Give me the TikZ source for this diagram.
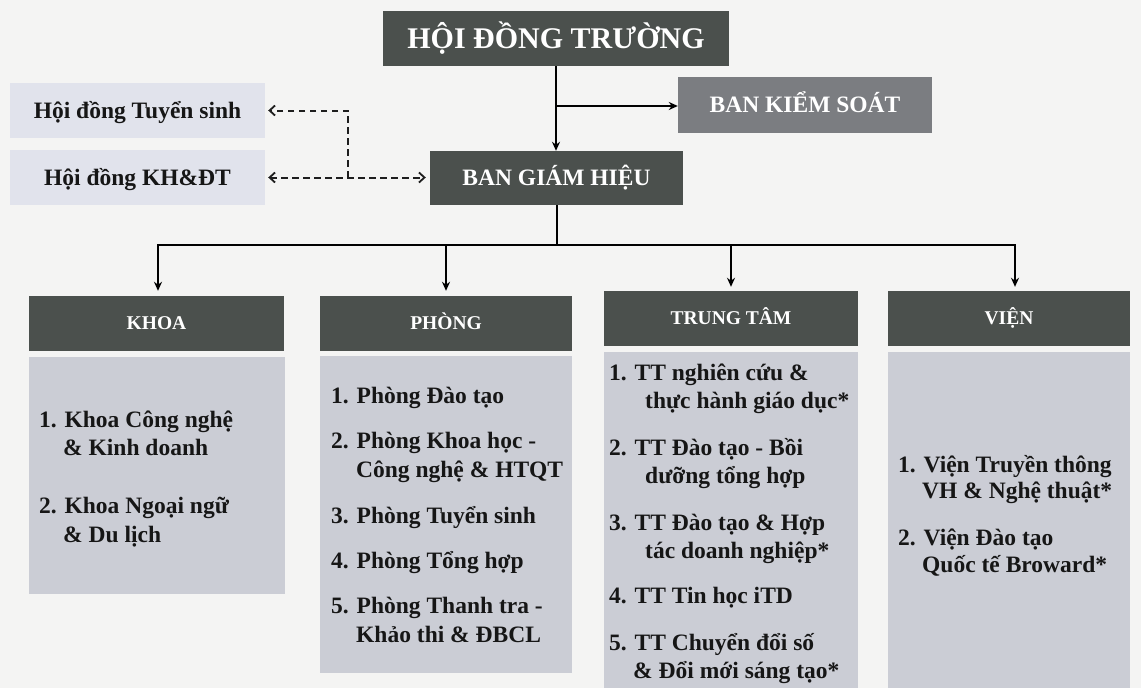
\documentclass[tikz,border=0pt]{standalone}
\usepackage{fontspec}
\setmainfont{Liberation Serif}
\usetikzlibrary{arrows.meta}
\definecolor{bgc}{HTML}{F4F4F3}
\definecolor{darkbox}{HTML}{4B504D}
\definecolor{midbox}{HTML}{7B7D81}
\definecolor{bodybox}{HTML}{CBCDD5}
\definecolor{sidebox}{HTML}{E1E3EC}
\definecolor{ink}{HTML}{161616}
\definecolor{dashc}{HTML}{1E1E1E}
\tikzset{
  box/.style={rectangle, inner sep=0pt, text depth=0pt, align=center},
  darkB/.style={box, fill=darkbox, text=white},
  midB/.style={box, fill=midbox, text=white},
  sideB/.style={box, fill=sidebox, text=ink, text height=15.5pt, font=\bfseries\fontsize{23.5}{28}\selectfont},
  headB/.style={darkB, text height=12.9pt, font=\bfseries\fontsize{19.5}{24}\selectfont},
  bodyB/.style={rectangle, inner sep=0pt, fill=bodybox},
  item/.style={inner sep=0pt, anchor=base west, text=ink, font=\bfseries\fontsize{23.5}{28}\selectfont},
  conn/.style={line width=2pt, black},
  solidarrow/.style={conn, -{Stealth[length=9pt,width=8pt]}},
  dashconn/.style={line width=2pt, dashc, dash pattern=on 6.5pt off 4.5pt},
  dbarb/.tip={Straight Barb[length=5.5pt,width=10pt,line width=1.8pt]}
}
\begin{document}
\begin{tikzpicture}[x=1pt,y=-1pt]
\fill[bgc] (0,0) rectangle (1141,688);
\useasboundingbox (0,0) rectangle (1141,688);

% top level
\node[darkB, minimum width=346pt, minimum height=55pt, text height=19.8pt, font=\bfseries\fontsize{30}{36}\selectfont] (hdt) at (556,38.5) {HỘI ĐỒNG TRƯỜNG};
\node[midB, minimum width=254pt, minimum height=56pt, text height=15.6pt, font=\bfseries\fontsize{23.5}{28}\selectfont] (bks) at (805,105) {BAN KIỂM SOÁT};
\node[darkB, minimum width=253pt, minimum height=54pt, text height=15.6pt, font=\bfseries\fontsize{23.5}{28}\selectfont] (bgh) at (556.5,178) {BAN GIÁM HIỆU};
\node[sideB, minimum width=255pt, minimum height=55pt] (hdts) at (137.5,110.5) {Hội đồng Tuyển sinh};
\node[sideB, minimum width=255pt, minimum height=55pt] (hdkh) at (137.5,177.5) {Hội đồng KH\&ĐT};

% category headers
\node[headB, minimum width=255pt, minimum height=55pt] (khoa) at (156.5,323.5) {KHOA};
\node[headB, minimum width=252pt, minimum height=55pt] (phong) at (446,323.5) {PHÒNG};
\node[headB, minimum width=254pt, minimum height=55pt] (tt) at (731,318.5) {TRUNG TÂM};
\node[headB, minimum width=242pt, minimum height=55pt] (vien) at (1009,318.5) {VIỆN};

% bodies
\node[bodyB, minimum width=256pt, minimum height=237pt] (khoaB) at (157,475.5) {};
\node[bodyB, minimum width=252pt, minimum height=317pt] (phongB) at (446,514.5) {};
\node[bodyB, minimum width=254pt, minimum height=336pt] (ttB) at (731,520) {};
\node[bodyB, minimum width=242pt, minimum height=336pt] (vienB) at (1009,520) {};

% KHOA items
\node[item] (k1a) at (39,427) {1. Khoa Công nghệ};
\node[item] (k1b) at (63,455) {\& Kinh doanh};
\node[item] (k2a) at (39,513) {2. Khoa Ngoại ngữ};
\node[item] (k2b) at (63,542) {\& Du lịch};

% PHONG items
\node[item] (p1) at (331,403) {1. Phòng Đào tạo};
\node[item] (p2a) at (331,448) {2. Phòng Khoa học -};
\node[item] (p2b) at (356,477) {Công nghệ \& HTQT};
\node[item] (p3) at (331,523) {3. Phòng Tuyển sinh};
\node[item] (p4) at (331,568) {4. Phòng Tổng hợp};
\node[item] (p5a) at (331,613) {5. Phòng Thanh tra -};
\node[item] (p5b) at (356,642) {Khảo thi \& ĐBCL};

% TRUNG TAM items
\node[item] (t1a) at (609,380) {1. TT nghiên cứu \&};
\node[item] (t1b) at (645,408) {thực hành giáo dục*};
\node[item] (t2a) at (609,455) {2. TT Đào tạo - Bồi};
\node[item] (t2b) at (645,483) {dưỡng tổng hợp};
\node[item] (t3a) at (609,530) {3. TT Đào tạo \& Hợp};
\node[item] (t3b) at (645,558) {tác doanh nghiệp*};
\node[item] (t4) at (609,603) {4. TT Tin học iTD};
\node[item] (t5a) at (609,650) {5. TT Chuyển đổi số};
\node[item] (t5b) at (633,678) {\& Đổi mới sáng tạo*};

% VIEN items
\node[item] (v1a) at (898,472) {1. Viện Truyền thông};
\node[item] (v1b) at (922,498) {VH \& Nghệ thuật*};
\node[item] (v2a) at (898,545) {2. Viện Đào tạo};
\node[item] (v2b) at (922,572) {Quốc tế Broward*};

% connectors
\coordinate (j1) at (556,106);
\coordinate (busL) at (158,245);
\coordinate (busR) at (1015,245);
\coordinate (dx) at (348,0);

\draw[solidarrow] (hdt.south) -- (hdt.south |- bgh.north);
\draw[solidarrow] (j1) -- (bks.west |- j1);
\draw[conn] (bgh.south) -- (bgh.south |- busL);
\draw[conn, line cap=rect] (busL) -- (busR);
\draw[solidarrow, shorten >=5pt] (busL) -- (busL |- khoa.north);
\draw[solidarrow, shorten >=5pt] (phong.north |- busL) -- (phong.north);
\draw[solidarrow, shorten >=4pt] (tt.north |- busL) -- (tt.north);
\draw[solidarrow, shorten >=4pt] (busR) -- (busR |- vien.north);

\draw[dashconn, -{dbarb}, shorten >=3pt] (hdkh.east -| dx) -- (hdts.east -| dx) -- (hdts.east);
\draw[dashconn, {dbarb}-{dbarb}, shorten <=3pt, shorten >=4pt] (hdkh.east) -- (bgh.west |- hdkh.east);
\end{tikzpicture}
\end{document}
